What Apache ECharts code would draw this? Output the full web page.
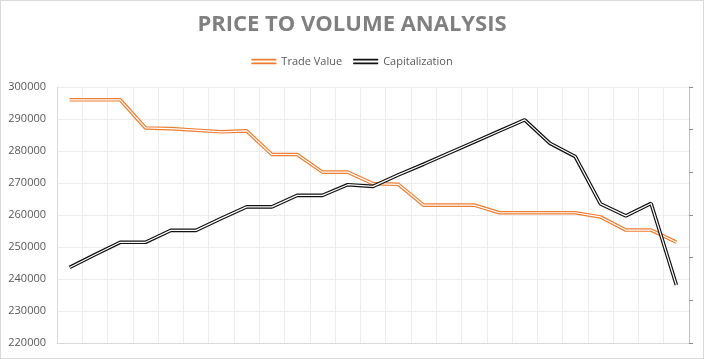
<!DOCTYPE html>
<html>
<head>
<meta charset="utf-8">
<script src="https://cdn.jsdelivr.net/npm/echarts@6/dist/echarts.min.js"></script>
<style>
html,body{margin:0;padding:0;background:#fff;}
#c{width:704px;height:359px;box-sizing:border-box;border:1px solid #d9d9d9;}
</style>
</head>
<body>
<div id="c"></div>
<script>
var categories = ['1','2','3','4','5','6','7','8','9','10','11','12','13','14','15','16','17','18','19','20','21','22','23','24','25'];
var tradeValue = [296000,296000,296000,287200,287000,286500,286000,286300,278900,278900,273400,273400,269800,269600,263100,263100,263100,260700,260700,260700,260700,259400,255300,255300,251500];
var capitalization = [17.7,20.7,23.6,23.6,26.4,26.4,29.2,31.9,31.9,34.6,34.6,37.1,36.7,39.4,41.9,44.5,47.1,49.7,52.3,46.8,43.7,32.6,29.8,32.7,13.6];
var leftTicks = {min:220000, max:300000, interval:10000};
var rightTicks = {min:0, max:60, interval:10};

var chart = echarts.init(document.getElementById('c'), null, {renderer:'canvas'});
var dbl = 'path://M0,0H40V3H0ZM0,6H40V9H0Z';
chart.setOption({
  animation:false,
  backgroundColor:'#fff',
  title:{
    text:'PRICE TO VOLUME ANALYSIS',
    left:'center', top:8,
    textStyle:{fontFamily:'Open Sans', fontWeight:'bold', fontSize:22, color:'#808080'}
  },
  legend:{
    top:50, left:'center', itemWidth:25, itemHeight:6, itemGap:11,
    textStyle:{fontFamily:'Open Sans', fontSize:11, color:'#595959'},
    data:[{name:'Trade Value', icon:dbl},{name:'Capitalization', icon:dbl}]
  },
  grid:{left:56, right:14, top:86, bottom:15, containLabel:false},
  xAxis:{
    type:'category', data:categories, boundaryGap:true,
    axisLine:{show:true, lineStyle:{color:'#d9d9d9'}},
    axisTick:{show:false},
    axisLabel:{show:false},
    splitLine:{show:true, interval:0, lineStyle:{color:'#ececec'}}
  },
  yAxis:[{
    type:'value', min:leftTicks.min, max:leftTicks.max, interval:leftTicks.interval,
    axisLine:{show:true, lineStyle:{color:'#d9d9d9'}},
    axisTick:{show:false},
    axisLabel:{fontFamily:'Open Sans', fontSize:11, color:'#595959', margin:11, formatter:function(v){return String(v);}},
    splitLine:{show:true, lineStyle:{color:'#ececec'}}
  },{
    type:'value', position:'right', min:rightTicks.min, max:rightTicks.max, interval:rightTicks.interval,
    axisLine:{show:true, lineStyle:{color:'#bfbfbf'}},
    axisTick:{show:true, inside:false, length:4, lineStyle:{color:'#8c8c8c'}},
    axisLabel:{show:false},
    splitLine:{show:false}
  }],
  series:[
    {name:'Trade Value', type:'line', data:tradeValue, symbol:'none', color:'#ED7D31', lineStyle:{width:3.6, color:'#ED7D31'}, z:2},
    {name:'tv-inner', type:'line', data:tradeValue, symbol:'none', silent:true, lineStyle:{width:1.2, color:'#ffffff'}, z:3},
    {name:'Capitalization', type:'line', yAxisIndex:1, data:capitalization, symbol:'none', color:'#111111', lineStyle:{width:3.6, color:'#111111'}, z:4},
    {name:'cap-inner', type:'line', yAxisIndex:1, data:capitalization, symbol:'none', silent:true, lineStyle:{width:1.2, color:'#ffffff'}, z:5}
  ]
});
</script>
</body>
</html>
